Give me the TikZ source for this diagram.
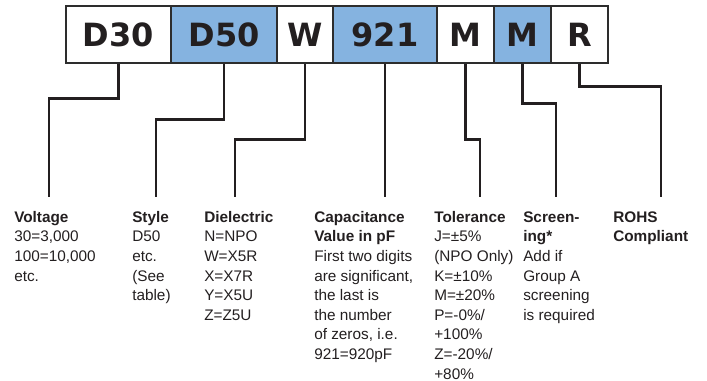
\documentclass[tikz,border=0pt]{standalone}
\usepackage{fontspec}
\setmainfont{Liberation Sans}
\newfontfamily\boxfont{DejaVu Sans}
\definecolor{codeblue}{RGB}{133,179,224}
\definecolor{ink}{RGB}{35,31,32}
\definecolor{edge}{RGB}{45,45,45}
\begin{document}
\begin{tikzpicture}[x=0.75pt,y=-0.75pt,
  codebox/.style={draw=edge,line width=1.1pt,inner sep=0pt,minimum height=42.75pt,
    font=\boxfont\fontsize{24}{28}\selectfont\bfseries,text=ink},
  wbox/.style={codebox,fill=white},
  bbox/.style={codebox,fill=codeblue},
  lead/.style={draw=ink,line width=1.9pt},
  txt/.style={anchor=north west,inner sep=0pt,align=left,text=ink,
    font=\fontsize{11.5}{14.7}\selectfont}]
\useasboundingbox (0,0) rectangle (707,381);
% code boxes
\node[wbox,minimum width=78.75pt] (b1) at (118.5,34.5) {D30};
\node[bbox,minimum width=79.5pt]  (b2) at (224,34.5) {D50};
\node[wbox,minimum width=42pt]    (b3) at (305,34.5) {W};
\node[bbox,minimum width=78pt]    (b4) at (385,34.5) {921};
\node[wbox,minimum width=42.75pt] (b5) at (465.5,34.5) {M};
\node[bbox,minimum width=42.75pt] (b6) at (522.5,34.5) {M};
\node[wbox,minimum width=42.75pt] (b7) at (579.5,34.5) {R};
% descriptions (top = first baseline 222 minus strut height)
\node[txt] (t1) at (14,208.3) {\strut\textbf{Voltage}\\30=3,000\\100=10,000\\etc.};
\node[txt] (t2) at (132,208.3) {\strut\textbf{Style}\\D50\\etc.\\(See\\table)};
\node[txt] (t3) at (204,208.3) {\strut\textbf{Dielectric}\\N=NPO\\W=X5R\\X=X7R\\Y=X5U\\Z=Z5U};
\node[txt] (t4) at (314,208.3) {\strut\textbf{Capacitance}\\\textbf{Value in pF}\\First two digits\\are significant,\\the last is\\the number\\of zeros, i.e.\\921=920pF};
\node[txt] (t5) at (434,208.3) {\strut\textbf{Tolerance}\\J=±5\%\\(NPO Only)\\K=±10\%\\M=±20\%\\P=-0\%/\\+100\%\\Z=-20\%/\\+80\%};
\node[txt] (t6) at (523,208.3) {\strut\textbf{Screen-}\\\textbf{ing*}\\Add if\\Group A\\screening\\is required};
\node[txt] (t7) at (613,208.3) {\strut\textbf{ROHS}\\\textbf{Compliant}};
% leader ends
\coordinate (e1) at (49,197);
\coordinate (e2) at (156,197);
\coordinate (e3) at (235,197);
\coordinate (e4) at (385,197);
\coordinate (e5) at (480,197);
\coordinate (e6) at (556,197);
\coordinate (e7) at (661,197);
% leaders
\draw[lead] (b1.south) -- ++(0,35) -| (e1);
\draw[lead] (b2.south) -- ++(0,56) -| (e2);
\draw[lead] (b3.south) -- ++(0,76) -| (e3);
\draw[lead] (b4.south) -- (e4);
\draw[lead] (b5.south) -- ++(0,76) -| (e5);
\draw[lead] (b6.south) -- ++(0,40) -| (e6);
\draw[lead] (b7.south) -- ++(0,23) -| (e7);
\end{tikzpicture}
\end{document}
